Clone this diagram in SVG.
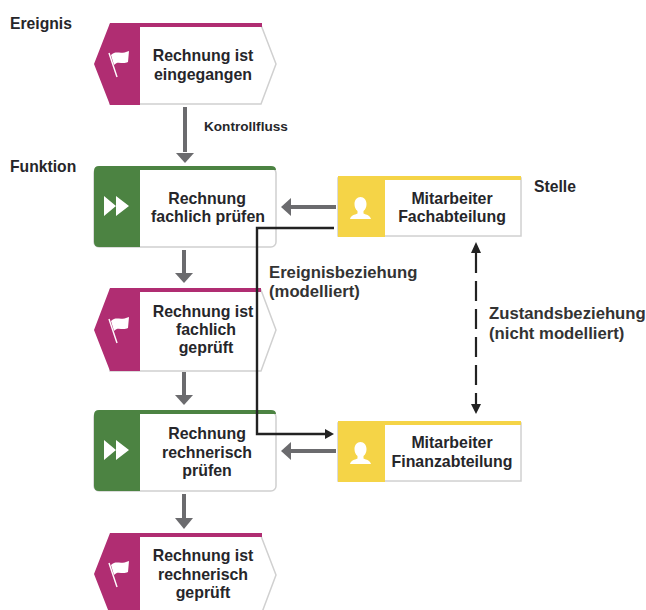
<svg xmlns="http://www.w3.org/2000/svg" width="646" height="610" viewBox="0 0 646 610">
<style>
text{font-family:"Liberation Sans",Arial,sans-serif;font-weight:bold;fill:#26262a}
.n text{font-size:15.9px;text-anchor:middle}
.l{font-size:15.7px}
.m{font-size:16.7px;fill:#333}
.body{fill:#fff;stroke:#d0d0d0;stroke-width:1.5}
.ev{fill:#b02d72}.fn{fill:#4c8342}.st{fill:#f5d447}
.g{stroke:#6b6b6e;stroke-width:4;fill:none}
.b{stroke:#222;stroke-width:2.4;fill:none}
.ic{fill:#fff}
</style>
<defs>
<g id="flag"><path d="M109 53L117 77" stroke="#fff" stroke-width="1.4" fill="none"/><path class="ic" d="M111 55C116 50 120 55 129 51L128 62C122 65 118 60 114 65Z"/></g>
<g id="ff"><path class="ic" d="M104 196V216L116 206ZM116 196V216L129 206Z"/></g>
<g id="person"><path class="ic" d="M360.500 197c-3.500 0-6 3-6 7 0 3 1 5.500 3 7v2.500c-3 1.500-6.500 1.500-7.500 5.500h21c-1-4-4.500-4-7.500-5.500v-2.500c2-1.500 3-4 3-7 0-4-2.500-7-6-7z"/></g>
</defs>
<g id="e1" class="n"><path class="body" d="M110 25H261L276 64L261 104H110Z"/><path class="ev" d="M110 23H262L262 27H140V105H110L94 64Z"/><use href="#flag"/><text x="203" y="61">Rechnung ist</text><text x="203" y="80">eingegangen</text></g>
<g id="f1" class="n"><rect class="body" x="94" y="168" width="182" height="79" rx="5"/><path class="fn" d="M99 166H271Q276 166 276 170H140V247H99Q94 247 94 242V171Q94 166 99 166Z"/><use href="#ff"/><text x="207" y="204">Rechnung</text><text x="208" y="222">fachlich prüfen</text></g>
<g id="e2" class="n"><path class="body" d="M110 290H261L276 330L261 371H110Z"/><path class="ev" d="M110 288H261L261 292H140V371H110L94 330Z"/><use href="#flag" y="266"/><text x="203" y="317">Rechnung ist</text><text x="206" y="335">fachlich</text><text x="206" y="353">geprüft</text></g>
<g id="f2" class="n"><rect class="body" x="94" y="412" width="182" height="79" rx="5"/><path class="fn" d="M99 410H271Q276 410 276 414H140V491H99Q94 491 94 486V415Q94 410 99 410Z"/><use href="#ff" y="244"/><text x="207" y="439">Rechnung</text><text x="207" y="458">rechnerisch</text><text x="207" y="476">prüfen</text></g>
<g id="e3" class="n"><path class="body" d="M110 536H261L276 575L261 615H110Z"/><path class="ev" d="M110 533H262L262 537H140V615H110L94 574Z"/><use href="#flag" y="510"/><text x="203" y="561">Rechnung ist</text><text x="203" y="580">rechnerisch</text><text x="203" y="598">geprüft</text></g>
<g id="s1" class="n"><rect class="body" x="338" y="178" width="183" height="58"/><path class="st" d="M338 176H521V180H385V237H338Z"/><use href="#person"/><text x="452" y="204">Mitarbeiter</text><text x="452" y="222">Fachabteilung</text></g>
<g id="s2" class="n"><rect class="body" x="338" y="423" width="183" height="58"/><path class="st" d="M338 421H521V425H385V482H338Z"/><use href="#person" y="245"/><text x="452" y="448">Mitarbeiter</text><text x="452" y="467">Finanzabteilung</text></g>
<g id="connectors">
<path class="g" d="M185 107V152"/><path d="M176 153H194L185 163Z" fill="#6b6b6e"/>
<path class="g" d="M184 250V273"/><path d="M175 273H193L184 283Z" fill="#6b6b6e"/>
<path class="g" d="M184 372V395"/><path d="M175 395H193L184 405Z" fill="#6b6b6e"/>
<path class="g" d="M184 494V518"/><path d="M175 518H193L184 529Z" fill="#6b6b6e"/>
<path class="g" d="M336 207H290"/><path d="M291 198V216L281 207Z" fill="#6b6b6e"/>
<path class="g" d="M336 451H291"/><path d="M291 442V460L281 451Z" fill="#6b6b6e"/>
<path class="b" d="M334 228H257V434H326"/><path d="M325 429V439L334 434Z" fill="#222"/>
<path d="M476 253V404" stroke="#222" stroke-width="2.2" stroke-dasharray="20 8" fill="none"/>
<path d="M471 253H481L476 242ZM471 404H481L476 414Z" fill="#222"/>
</g>
<g id="labels">
<text class="l" x="10" y="29">Ereignis</text>
<text class="l" x="10" y="172">Funktion</text>
<text x="204" y="131" style="font-size:13.6px">Kontrollfluss</text>
<text class="l" x="534" y="192">Stelle</text>
<text class="m" x="269" y="278">Ereignisbeziehung</text>
<text class="m" x="269" y="297">(modelliert)</text>
<text class="m" x="489" y="319">Zustandsbeziehung</text>
<text class="m" x="489" y="339">(nicht modelliert)</text>
</g>
</svg>
